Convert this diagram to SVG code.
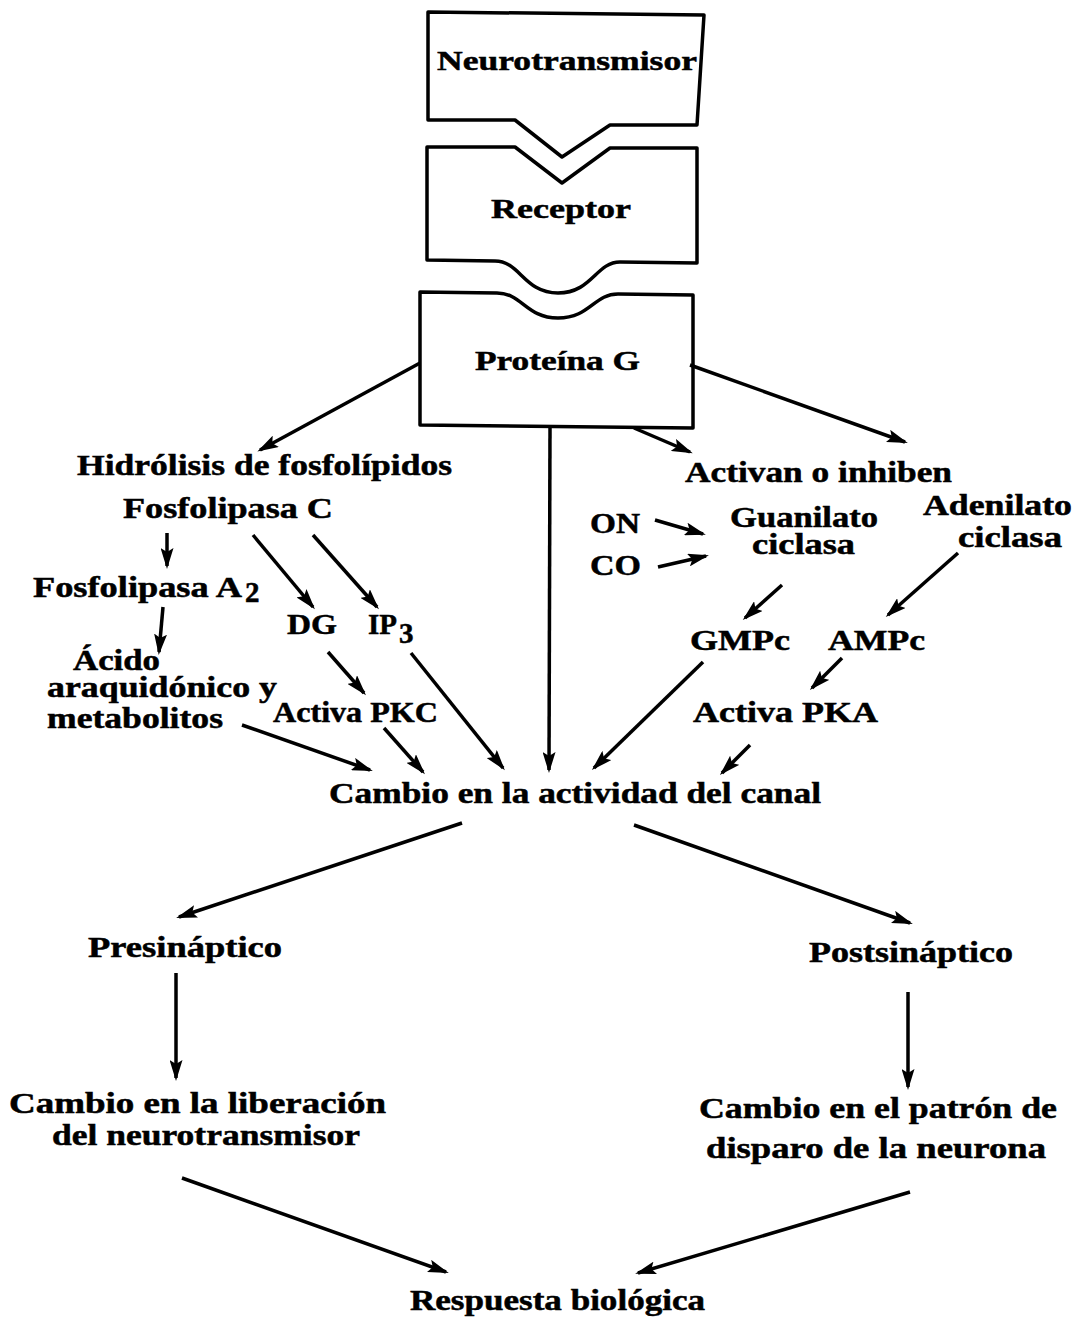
<svg xmlns="http://www.w3.org/2000/svg" width="1077" height="1323" viewBox="0 0 1077 1323">
<style>
text{font-family:"Liberation Serif","Times New Roman",serif;font-weight:bold;font-size:29px;fill:#000;stroke:#000;stroke-width:0.5}
.box{fill:#fff;stroke:#000;stroke-width:3.5;stroke-linejoin:round}
.c line{stroke:#000;stroke-width:3.5;marker-end:url(#ah)}
</style>
<defs>
<marker id="ah" markerUnits="userSpaceOnUse" markerWidth="21" markerHeight="13" refX="18" refY="6.5" orient="auto">
<path d="M0,0 L21,6.5 L0,13 L4,6.5 z" fill="#000"/>
</marker>
</defs>
<rect width="1077" height="1323" fill="#fff"/>

<g id="neurotransmisor">
<path class="box" d="M428,12 L704,15 L697,125 L610,125 L562,157 L515,120 L428,120 Z"/>
<text x="437" y="70" textLength="260" lengthAdjust="spacingAndGlyphs" style="font-size:28px">Neurotransmisor</text>
</g>
<g id="receptor">
<path class="box" d="M427,147 L515,147 L562,183 L610,148 L697,148 L697,263 L620,262 C596,262 592,293 558,293 C524,293 520,261 495,261 L427,260 Z"/>
<text x="491" y="218" textLength="140" lengthAdjust="spacingAndGlyphs" style="font-size:28px">Receptor</text>
</g>
<g id="proteina">
<path class="box" d="M420,292 L497,293 C522,293 526,318 558,318 C590,318 594,294 618,294 L693,295 L693,428 L420,425 Z"/>
<text x="475" y="370" textLength="165" lengthAdjust="spacingAndGlyphs" style="font-size:28px">Proteína G</text>
</g>

<g id="hidrolisis"><text x="77" y="475" textLength="375" lengthAdjust="spacingAndGlyphs">Hidrólisis de fosfolípidos</text></g>
<g id="fosfolipasaC"><text x="123" y="518" textLength="210" lengthAdjust="spacingAndGlyphs">Fosfolipasa C</text></g>
<g id="fosfolipasaA2"><text><tspan x="33" y="597" textLength="209" lengthAdjust="spacingAndGlyphs">Fosfolipasa A</tspan><tspan x="245" y="602">2</tspan></text></g>
<g id="dg"><text x="287" y="634" textLength="50" lengthAdjust="spacingAndGlyphs">DG</text></g>
<g id="ip3"><text><tspan x="368" y="634" textLength="29" lengthAdjust="spacingAndGlyphs">IP</tspan><tspan x="399" y="643">3</tspan></text></g>
<g id="acido">
<text x="73" y="670" textLength="87" lengthAdjust="spacingAndGlyphs">Ácido</text>
<text x="47" y="697" textLength="230" lengthAdjust="spacingAndGlyphs">araquidónico y</text>
<text x="47" y="728" textLength="176" lengthAdjust="spacingAndGlyphs">metabolitos</text>
</g>
<g id="pkc"><text x="273" y="722" textLength="165" lengthAdjust="spacingAndGlyphs">Activa PKC</text></g>
<g id="activan"><text x="685" y="482" textLength="267" lengthAdjust="spacingAndGlyphs">Activan o inhiben</text></g>
<g id="on"><text x="590" y="533" textLength="50" lengthAdjust="spacingAndGlyphs">ON</text></g>
<g id="co"><text x="590" y="575" textLength="51" lengthAdjust="spacingAndGlyphs">CO</text></g>
<g id="guanilato">
<text x="730" y="527" textLength="148" lengthAdjust="spacingAndGlyphs">Guanilato</text>
<text x="752" y="554" textLength="103" lengthAdjust="spacingAndGlyphs">ciclasa</text>
</g>
<g id="adenilato">
<text x="923" y="515" textLength="149" lengthAdjust="spacingAndGlyphs">Adenilato</text>
<text x="958" y="547" textLength="104" lengthAdjust="spacingAndGlyphs">ciclasa</text>
</g>
<g id="gmpc"><text x="690" y="650" textLength="100" lengthAdjust="spacingAndGlyphs">GMPc</text></g>
<g id="ampc"><text x="828" y="650" textLength="97" lengthAdjust="spacingAndGlyphs">AMPc</text></g>
<g id="pka"><text x="693" y="722" textLength="185" lengthAdjust="spacingAndGlyphs">Activa PKA</text></g>
<g id="cambio"><text x="329" y="803" textLength="492" lengthAdjust="spacingAndGlyphs">Cambio en la actividad del canal</text></g>
<g id="presinaptico"><text x="88" y="957" textLength="194" lengthAdjust="spacingAndGlyphs">Presináptico</text></g>
<g id="postsinaptico"><text x="809" y="962" textLength="204" lengthAdjust="spacingAndGlyphs">Postsináptico</text></g>
<g id="liberacion">
<text x="9" y="1113" textLength="377" lengthAdjust="spacingAndGlyphs">Cambio en la liberación</text>
<text x="52" y="1145" textLength="308" lengthAdjust="spacingAndGlyphs">del neurotransmisor</text>
</g>
<g id="patron">
<text x="699" y="1118" textLength="358" lengthAdjust="spacingAndGlyphs">Cambio en el patrón de</text>
<text x="706" y="1158" textLength="340" lengthAdjust="spacingAndGlyphs">disparo de la neurona</text>
</g>
<g id="respuesta"><text x="410" y="1310" textLength="295" lengthAdjust="spacingAndGlyphs">Respuesta biológica</text></g>

<g id="connectors" class="c">
<line x1="420" y1="363" x2="260" y2="450"/>
<line x1="690" y1="365" x2="905" y2="442"/>
<line x1="634" y1="428" x2="690" y2="452"/>
<line x1="550" y1="428" x2="549" y2="770"/>
<line x1="167" y1="533" x2="167" y2="566"/>
<line x1="163" y1="607" x2="159" y2="652"/>
<line x1="253" y1="535" x2="313" y2="607"/>
<line x1="313" y1="535" x2="377" y2="607"/>
<line x1="328" y1="652" x2="364" y2="693"/>
<line x1="411" y1="653" x2="503" y2="768"/>
<line x1="242" y1="725" x2="370" y2="770"/>
<line x1="384" y1="728" x2="423" y2="772"/>
<line x1="703" y1="662" x2="594" y2="768"/>
<line x1="750" y1="745" x2="722" y2="773"/>
<line x1="655" y1="520" x2="703" y2="534"/>
<line x1="658" y1="567" x2="706" y2="556"/>
<line x1="782" y1="585" x2="745" y2="618"/>
<line x1="958" y1="553" x2="888" y2="615"/>
<line x1="842" y1="658" x2="812" y2="688"/>
<line x1="462" y1="823" x2="179" y2="917"/>
<line x1="634" y1="825" x2="910" y2="923"/>
<line x1="176" y1="973" x2="176" y2="1078"/>
<line x1="908" y1="992" x2="908" y2="1087"/>
<line x1="182" y1="1178" x2="446" y2="1272"/>
<line x1="910" y1="1192" x2="638" y2="1273"/>
</g>
</svg>
